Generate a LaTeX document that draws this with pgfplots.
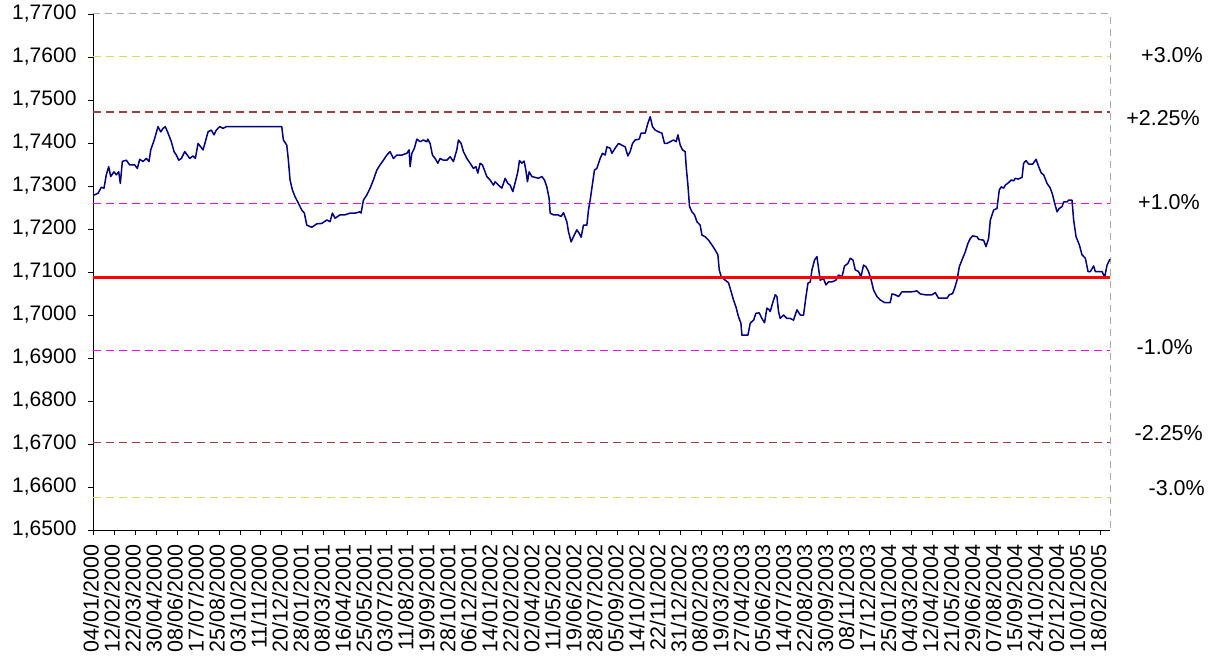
\documentclass[border=0pt]{standalone}
\usepackage{pgfplots}
\pgfplotsset{compat=1.18}
\usepackage{fontspec}
\setmainfont{Liberation Sans}
\definecolor{navyline}{RGB}{0,0,128}
\definecolor{bandthree}{RGB}{204,222,100}
\definecolor{bandtwo}{RGB}{160,60,60}
\definecolor{bandone}{RGB}{255,0,255}
\definecolor{bordergray}{RGB}{170,170,170}
\begin{document}
\begin{tikzpicture}
\begin{axis}[
  name=main,
  scale only axis, width=1017pt, height=516pt,
  xmin=0, xmax=1890, ymin=1.65, ymax=1.77,
  axis x line*=bottom, axis y line*=left,
  axis line style={black, line width=0.8pt},
  ytick={1.65,1.66,1.67,1.68,1.69,1.70,1.71,1.72,1.73,1.74,1.75,1.76,1.77},
  y tick label style={font=\fontsize{21}{21}\selectfont, black, xshift=-8pt,
    /pgf/number format/fixed, /pgf/number format/fixed zerofill, /pgf/number format/precision=4,
    /pgf/number format/use comma, /pgf/number format/assume math mode=true},
  xtick={0,39,...,1872},
  xticklabels={04/01/2000,12/02/2000,22/03/2000,30/04/2000,08/06/2000,17/07/2000,25/08/2000,03/10/2000,11/11/2000,20/12/2000,28/01/2001,08/03/2001,16/04/2001,25/05/2001,03/07/2001,11/08/2001,19/09/2001,28/10/2001,06/12/2001,14/01/2002,22/02/2002,02/04/2002,11/05/2002,19/06/2002,28/07/2002,05/09/2002,14/10/2002,22/11/2002,31/12/2002,08/02/2003,19/03/2003,27/04/2003,05/06/2003,14/07/2003,22/08/2003,30/09/2003,08/11/2003,17/12/2003,25/01/2004,04/03/2004,12/04/2004,21/05/2004,29/06/2004,07/08/2004,15/09/2004,24/10/2004,02/12/2004,10/01/2005,18/02/2005},
  x tick label style={rotate=90, anchor=east, font=\fontsize{21.5}{21.5}\selectfont, black, yshift=2pt, xshift=-6pt},
  tick align=outside, major tick length=5pt,
  tick style={black, line width=0.8pt},
  clip=false,
]
\draw[bordergray, line width=1pt, dash pattern=on 7pt off 5pt] (axis cs:0,1.77) -- (axis cs:1890,1.77) -- (axis cs:1890,1.65);
\addplot[bandthree, line width=1.2pt, dash pattern=on 8pt off 5pt] coordinates {(0,1.7601) (1890,1.7601)};
\addplot[bandthree, line width=1.2pt, dash pattern=on 8pt off 5pt] coordinates {(0,1.6575) (1890,1.6575)};
\addplot[bandtwo, line width=1.2pt, dash pattern=on 8pt off 5pt] coordinates {(0,1.7472) (1890,1.7472)};
\addplot[bandtwo, line width=1.2pt, dash pattern=on 8pt off 5pt] coordinates {(0,1.6704) (1890,1.6704)};
\addplot[bandone, line width=1.2pt, dash pattern=on 8pt off 5pt] coordinates {(0,1.7259) (1890,1.7259)};
\addplot[bandone, line width=1.2pt, dash pattern=on 8pt off 5pt] coordinates {(0,1.6917) (1890,1.6917)};
\addplot[navyline, line width=1.5pt, line join=round] coordinates {
(0,1.7278) (1.9,1.7279) (9.3,1.7283) (15.4,1.7297) (20.4,1.7295) (24.7,1.7326) (29.2,1.7345) (32.9,1.7322)
(39.0,1.7333) (43.3,1.7326) (47.8,1.7333) (50.8,1.7306) (54.5,1.7357) (61.9,1.7360) (68.2,1.7349) (77.5,1.7349)
(82.4,1.7341) (86.8,1.7362) (93.0,1.7357) (99.1,1.7364) (104.1,1.7357) (107.3,1.7384) (111.5,1.7399) (114.7,1.7411)
(120.8,1.7438) (125.9,1.7426) (130.1,1.7434) (134.4,1.7438) (139.4,1.7423) (145.6,1.7403) (150.6,1.7380) (154.9,1.7372)
(159.3,1.7360) (164.2,1.7364) (170.5,1.7380) (175.3,1.7372) (179.8,1.7364) (185.9,1.7370) (190.2,1.7364) (195.2,1.7399)
(200.2,1.7391) (204.5,1.7384) (208.8,1.7403) (213.8,1.7426) (219.9,1.7430) (224.9,1.7419) (229.2,1.7430) (235.5,1.7438)
(241.7,1.7434) (247.8,1.7438) (350.8,1.7438) (353.8,1.7407) (360.1,1.7395) (363.1,1.7360) (366.2,1.7314) (370.5,1.7291)
(375.5,1.7275) (380.5,1.7263) (388.0,1.7244) (392.8,1.7237) (397.3,1.7209) (406.6,1.7204) (415.9,1.7212) (425.2,1.7213)
(434.5,1.7221) (440.6,1.7217) (444.9,1.7237) (449.9,1.7225) (459.2,1.7233) (468.5,1.7233) (477.8,1.7237) (487.1,1.7237)
(496.4,1.7240) (498.2,1.7237) (502.5,1.7267) (508.8,1.7279) (515.0,1.7295) (521.1,1.7314) (527.4,1.7337) (533.5,1.7349)
(539.7,1.7360) (546.0,1.7372) (552.1,1.7380) (558.3,1.7364) (564.6,1.7372) (573.9,1.7372) (583.2,1.7376) (587.4,1.7384)
(589.3,1.7345) (592.5,1.7376) (597.3,1.7388) (601.8,1.7409) (607.9,1.7403) (614.0,1.7407) (620.4,1.7403) (622.2,1.7409)
(626.5,1.7399) (630.8,1.7372) (635.8,1.7364) (640.8,1.7353) (645.1,1.7364) (651.2,1.7360) (657.5,1.7360) (663.7,1.7368)
(669.8,1.7357) (676.1,1.7384) (679.1,1.7407) (684.1,1.7399) (688.4,1.7380) (694.7,1.7364) (700.9,1.7353) (707.0,1.7341)
(711.5,1.7345) (715.2,1.7330) (719.4,1.7353) (723.7,1.7349) (727.4,1.7337) (731.9,1.7322) (738.0,1.7314) (744.2,1.7302)
(747.3,1.7310) (753.5,1.7302) (759.8,1.7295) (765.9,1.7318) (770.9,1.7306) (775.2,1.7302) (780.2,1.7287) (785.8,1.7314)
(789.5,1.7333) (792.5,1.7359) (797.0,1.7353) (801.2,1.7358) (804.4,1.7337) (807.4,1.7310) (810.5,1.7333) (815.6,1.7322)
(821.7,1.7320) (827.8,1.7318) (834.1,1.7322) (839.0,1.7314) (843.4,1.7298) (847.7,1.7271) (849.6,1.7237) (855.7,1.7233)
(863.9,1.7233) (870.0,1.7229) (874.3,1.7238) (880.6,1.7217) (883.6,1.7194) (888.6,1.7170) (892.9,1.7182) (899.2,1.7198)
(903.5,1.7190) (907.2,1.7181) (911.5,1.7209) (917.8,1.7209) (920.8,1.7244) (923.9,1.7267) (927.1,1.7295) (931.9,1.7337)
(936.4,1.7341) (942.5,1.7364) (946.8,1.7376) (951.8,1.7372) (955.0,1.7391) (961.1,1.7388) (964.3,1.7376) (970.4,1.7388)
(976.6,1.7399) (982.8,1.7395) (989.0,1.7391) (994.0,1.7370) (998.3,1.7380) (1002.6,1.7399) (1007.6,1.7407) (1015.0,1.7409)
(1018.7,1.7423) (1026.2,1.7423) (1031.2,1.7446) (1035.5,1.7461) (1039.8,1.7438) (1044.8,1.7430) (1050.9,1.7426) (1057.2,1.7423)
(1062.1,1.7399) (1066.5,1.7399) (1072.7,1.7403) (1078.8,1.7407) (1083.8,1.7403) (1087.0,1.7419) (1091.3,1.7395) (1095.5,1.7384)
(1100.5,1.7380) (1102.4,1.7345) (1105.6,1.7302) (1108.6,1.7252) (1113.0,1.7240) (1117.9,1.7233) (1122.3,1.7217) (1128.4,1.7209)
(1131.6,1.7186) (1137.7,1.7182) (1143.9,1.7174) (1150.2,1.7163) (1156.3,1.7151) (1161.3,1.7140) (1163.8,1.7105) (1167.5,1.7089)
(1174.9,1.7081) (1181.0,1.7075) (1186.0,1.7054) (1190.3,1.7035) (1194.8,1.7019) (1199.6,1.6996) (1204.1,1.6981) (1206.0,1.6953)
(1217.1,1.6953) (1221.4,1.6981) (1227.6,1.6988) (1232.0,1.7004) (1238.1,1.7005) (1243.1,1.6992) (1248.0,1.6982) (1252.4,1.7016)
(1256.7,1.7012) (1258.6,1.7008) (1262.8,1.7027) (1267.9,1.7047) (1271.0,1.7043) (1274.0,1.7008) (1277.1,1.6992) (1283.3,1.7000)
(1289.6,1.6992) (1295.8,1.6992) (1301.9,1.6988) (1308.2,1.7012) (1314.4,1.7000) (1320.5,1.7000) (1325.0,1.7043) (1328.7,1.7074)
(1333.0,1.7077) (1336.1,1.7105) (1341.0,1.7128) (1345.3,1.7136) (1348.3,1.7109) (1351.5,1.7081) (1357.6,1.7085) (1362.1,1.7070)
(1366.9,1.7077) (1373.3,1.7077) (1380.7,1.7081) (1385.5,1.7093) (1391.9,1.7089) (1396.7,1.7114) (1403.0,1.7120) (1407.3,1.7132)
(1412.3,1.7128) (1416.6,1.7105) (1422.7,1.7101) (1427.2,1.7089) (1432.0,1.7116) (1436.5,1.7112) (1441.3,1.7101) (1446.3,1.7081)
(1450.6,1.7058) (1456.9,1.7043) (1463.0,1.7035) (1471.0,1.7029) (1481.6,1.7029) (1484.8,1.7049) (1490.9,1.7047) (1497.1,1.7043)
(1503.4,1.7054) (1512.7,1.7054) (1522.0,1.7054) (1531.3,1.7056) (1537.4,1.7049) (1546.7,1.7047) (1559.2,1.7047) (1565.3,1.7052)
(1571.4,1.7039) (1587.1,1.7039) (1591.3,1.7047) (1597.5,1.7050) (1601.2,1.7062) (1605.7,1.7081) (1609.9,1.7112) (1614.9,1.7128)
(1621.1,1.7147) (1626.1,1.7167) (1630.4,1.7178) (1634.7,1.7184) (1642.9,1.7182) (1645.9,1.7176) (1655.1,1.7174) (1659.6,1.7159)
(1664.4,1.7178) (1667.6,1.7221) (1673.7,1.7244) (1680.0,1.7248) (1684.3,1.7291) (1688.0,1.7298) (1692.3,1.7295) (1695.5,1.7302)
(1701.6,1.7308) (1706.6,1.7314) (1710.9,1.7312) (1714.1,1.7318) (1719.1,1.7316) (1726.5,1.7320) (1729.5,1.7353) (1734.0,1.7359)
(1738.8,1.7351) (1746.3,1.7351) (1752.6,1.7362) (1757.4,1.7345) (1762.4,1.7330) (1766.7,1.7326) (1773.0,1.7306) (1779.1,1.7295)
(1783.4,1.7279) (1787.1,1.7260) (1791.6,1.7240) (1795.8,1.7248) (1800.9,1.7252) (1803.8,1.7263) (1810.1,1.7263) (1813.1,1.7267)
(1819.4,1.7267) (1822.4,1.7221) (1826.9,1.7182) (1833.0,1.7163) (1838.0,1.7140) (1844.2,1.7132) (1849.2,1.7101) (1853.5,1.7101)
(1859.6,1.7114) (1862.7,1.7101) (1875.2,1.7101) (1880.1,1.7088) (1884.5,1.7116) (1890,1.7130)
};
\addplot[red, line width=3pt] coordinates {(0,1.7088) (1890,1.7088)};
\tikzset{pct/.style={anchor=east, inner sep=0pt, font=\fontsize{21.5}{21.5}\selectfont}}
\node[pct] at (axis cs:1890,1.7605) [xshift=93pt] {+3.0\%};
\node[pct] at (axis cs:1890,1.7457) [xshift=90pt] {+2.25\%};
\node[pct] at (axis cs:1890,1.7262) [xshift=90pt] {+1.0\%};
\node[pct] at (axis cs:1890,1.6926) [xshift=83pt] {-1.0\%};
\node[pct] at (axis cs:1890,1.6725) [xshift=93pt] {-2.25\%};
\node[pct] at (axis cs:1890,1.6597) [xshift=95pt] {-3.0\%};
\end{axis}
\path[use as bounding box] ([xshift=-93pt,yshift=-131pt]main.south west) rectangle ([xshift=106pt,yshift=14pt]main.north east);
\end{tikzpicture}
\end{document}
